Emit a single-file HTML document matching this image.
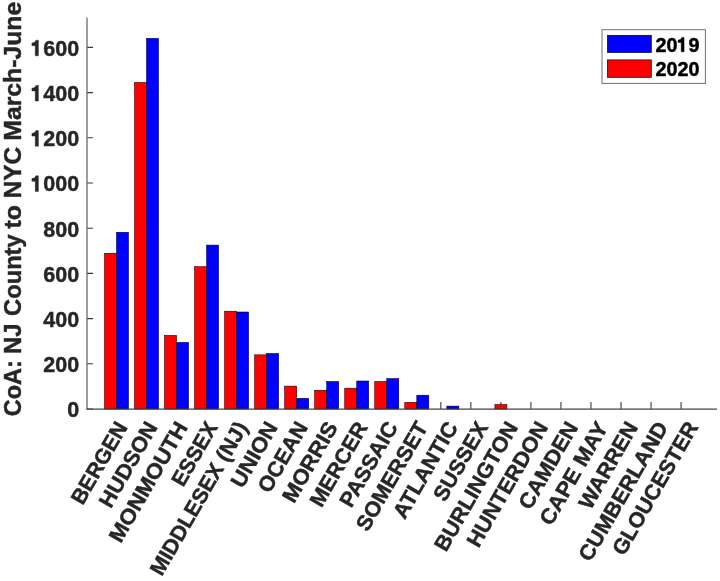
<!DOCTYPE html><html><head><meta charset="utf-8"><style>html,body{margin:0;padding:0;background:#fff;}svg{display:block;filter:blur(0.35px);}text{filter:grayscale(1);}text{font-family:"Liberation Sans", sans-serif;font-weight:bold;stroke:#262626;stroke-width:0.45px;paint-order:stroke;}</style></head><body>
<svg width="720" height="581" viewBox="0 0 720 581">
<rect x="0" y="0" width="720" height="581" fill="#fff"/>
<path d="M87 409.00H93M87 363.80H93M87 318.60H93M87 273.40H93M87 228.20H93M87 183.00H93M87 137.80H93M87 92.60H93M87 47.40H93M110.50 409.00V402.10M140.53 409.00V402.10M170.56 409.00V402.10M200.59 409.00V402.10M230.62 409.00V402.10M260.65 409.00V402.10M290.68 409.00V402.10M320.71 409.00V402.10M350.74 409.00V402.10M380.77 409.00V402.10M410.80 409.00V402.10M440.83 409.00V402.10M470.86 409.00V402.10M500.89 409.00V402.10M530.92 409.00V402.10M560.95 409.00V402.10M590.98 409.00V402.10M621.01 409.00V402.10M651.04 409.00V402.10M681.07 409.00V402.10" stroke="#262626" stroke-width="1.1" fill="none" opacity="0.9"/>
<rect x="104.50" y="253.29" width="12.00" height="155.71" fill="#ff0000" stroke="#000" stroke-width="0.55"/>
<rect x="116.50" y="232.27" width="12.00" height="176.73" fill="#0000ff" stroke="#000" stroke-width="0.55"/>
<rect x="134.53" y="82.50" width="12.00" height="326.50" fill="#ff0000" stroke="#000" stroke-width="0.55"/>
<rect x="146.53" y="38.36" width="12.00" height="370.64" fill="#0000ff" stroke="#000" stroke-width="0.55"/>
<rect x="164.56" y="335.39" width="12.00" height="73.61" fill="#ff0000" stroke="#000" stroke-width="0.55"/>
<rect x="176.56" y="342.40" width="12.00" height="66.60" fill="#0000ff" stroke="#000" stroke-width="0.55"/>
<rect x="194.59" y="266.71" width="12.00" height="142.29" fill="#ff0000" stroke="#000" stroke-width="0.55"/>
<rect x="206.59" y="245.10" width="12.00" height="163.90" fill="#0000ff" stroke="#000" stroke-width="0.55"/>
<rect x="224.62" y="311.21" width="12.00" height="97.79" fill="#ff0000" stroke="#000" stroke-width="0.55"/>
<rect x="236.62" y="312.00" width="12.00" height="97.00" fill="#0000ff" stroke="#000" stroke-width="0.55"/>
<rect x="254.65" y="354.85" width="12.00" height="54.15" fill="#ff0000" stroke="#000" stroke-width="0.55"/>
<rect x="266.65" y="353.49" width="12.00" height="55.51" fill="#0000ff" stroke="#000" stroke-width="0.55"/>
<rect x="284.68" y="386.11" width="12.00" height="22.89" fill="#ff0000" stroke="#000" stroke-width="0.55"/>
<rect x="296.68" y="398.31" width="12.00" height="10.69" fill="#0000ff" stroke="#000" stroke-width="0.55"/>
<rect x="314.71" y="390.24" width="12.00" height="18.76" fill="#ff0000" stroke="#000" stroke-width="0.55"/>
<rect x="326.71" y="381.50" width="12.00" height="27.50" fill="#0000ff" stroke="#000" stroke-width="0.55"/>
<rect x="344.74" y="388.21" width="12.00" height="20.79" fill="#ff0000" stroke="#000" stroke-width="0.55"/>
<rect x="356.74" y="381.00" width="12.00" height="28.00" fill="#0000ff" stroke="#000" stroke-width="0.55"/>
<rect x="374.77" y="381.50" width="12.00" height="27.50" fill="#ff0000" stroke="#000" stroke-width="0.55"/>
<rect x="386.77" y="378.60" width="12.00" height="30.40" fill="#0000ff" stroke="#000" stroke-width="0.55"/>
<rect x="404.80" y="402.40" width="12.00" height="6.60" fill="#ff0000" stroke="#000" stroke-width="0.55"/>
<rect x="416.80" y="395.21" width="12.00" height="13.79" fill="#0000ff" stroke="#000" stroke-width="0.55"/>
<rect x="446.83" y="406.11" width="12.00" height="2.89" fill="#0000ff" stroke="#000" stroke-width="0.55"/>
<rect x="494.89" y="404.53" width="12.00" height="4.47" fill="#ff0000" stroke="#000" stroke-width="0.55"/>
<path d="M87 17.4V409.2" stroke="#6a6a6a" stroke-width="1.3" fill="none"/>
<path d="M86.35 409.2H717" stroke="#444444" stroke-width="1.3" fill="none"/>
<text x="79.1" y="417.40" font-size="21.5" fill="#262626" text-anchor="end">0</text>
<text x="79.1" y="372.20" font-size="21.5" fill="#262626" text-anchor="end">200</text>
<text x="79.1" y="327.00" font-size="21.5" fill="#262626" text-anchor="end">400</text>
<text x="79.1" y="281.80" font-size="21.5" fill="#262626" text-anchor="end">600</text>
<text x="79.1" y="236.60" font-size="21.5" fill="#262626" text-anchor="end">800</text>
<text x="79.1" y="191.40" font-size="21.5" fill="#262626" text-anchor="end">000</text>
<path d="M0.185 0H0.33V0.725H0.215C0.19 0.64 0.12 0.60 0.03 0.595V0.47H0.185Z" transform="translate(31.28 191.40) scale(21.500 -21.500)" fill="#262626" stroke="#262626" stroke-width="0.0209"/>
<text x="79.1" y="146.20" font-size="21.5" fill="#262626" text-anchor="end">200</text>
<path d="M0.185 0H0.33V0.725H0.215C0.19 0.64 0.12 0.60 0.03 0.595V0.47H0.185Z" transform="translate(31.28 146.20) scale(21.500 -21.500)" fill="#262626" stroke="#262626" stroke-width="0.0209"/>
<text x="79.1" y="101.00" font-size="21.5" fill="#262626" text-anchor="end">400</text>
<path d="M0.185 0H0.33V0.725H0.215C0.19 0.64 0.12 0.60 0.03 0.595V0.47H0.185Z" transform="translate(31.28 101.00) scale(21.500 -21.500)" fill="#262626" stroke="#262626" stroke-width="0.0209"/>
<text x="79.1" y="55.80" font-size="21.5" fill="#262626" text-anchor="end">600</text>
<path d="M0.185 0H0.33V0.725H0.215C0.19 0.64 0.12 0.60 0.03 0.595V0.47H0.185Z" transform="translate(31.28 55.80) scale(21.500 -21.500)" fill="#262626" stroke="#262626" stroke-width="0.0209"/>
<text transform="translate(128.20 427.10) rotate(-60)" font-size="21.5" fill="#262626" text-anchor="end" textLength="91.08" lengthAdjust="spacingAndGlyphs">BERGEN</text>
<text transform="translate(158.23 427.10) rotate(-60)" font-size="21.5" fill="#262626" text-anchor="end" textLength="94.77" lengthAdjust="spacingAndGlyphs">HUDSON</text>
<text transform="translate(188.26 427.10) rotate(-60)" font-size="21.5" fill="#262626" text-anchor="end" textLength="134.88" lengthAdjust="spacingAndGlyphs">MONMOUTH</text>
<text transform="translate(218.29 427.10) rotate(-60)" font-size="21.5" fill="#262626" text-anchor="end" textLength="70.10" lengthAdjust="spacingAndGlyphs">ESSEX</text>
<text transform="translate(248.32 427.10) rotate(-60)" font-size="21.5" fill="#262626" text-anchor="end" textLength="173.21" lengthAdjust="spacingAndGlyphs">MIDDLESEX (NJ)</text>
<text transform="translate(278.35 427.10) rotate(-60)" font-size="21.5" fill="#262626" text-anchor="end" textLength="71.68" lengthAdjust="spacingAndGlyphs">UNION</text>
<text transform="translate(308.38 427.10) rotate(-60)" font-size="21.5" fill="#262626" text-anchor="end" textLength="77.54" lengthAdjust="spacingAndGlyphs">OCEAN</text>
<text transform="translate(338.41 427.10) rotate(-60)" font-size="21.5" fill="#262626" text-anchor="end" textLength="89.00" lengthAdjust="spacingAndGlyphs">MORRIS</text>
<text transform="translate(368.44 427.10) rotate(-60)" font-size="21.5" fill="#262626" text-anchor="end" textLength="94.12" lengthAdjust="spacingAndGlyphs">MERCER</text>
<text transform="translate(398.47 427.10) rotate(-60)" font-size="21.5" fill="#262626" text-anchor="end" textLength="94.41" lengthAdjust="spacingAndGlyphs">PASSAIC</text>
<text transform="translate(428.50 427.10) rotate(-60)" font-size="21.5" fill="#262626" text-anchor="end" textLength="121.60" lengthAdjust="spacingAndGlyphs">SOMERSET</text>
<text transform="translate(458.53 427.10) rotate(-60)" font-size="21.5" fill="#262626" text-anchor="end" textLength="107.44" lengthAdjust="spacingAndGlyphs">ATLANTIC</text>
<text transform="translate(488.56 427.10) rotate(-60)" font-size="21.5" fill="#262626" text-anchor="end" textLength="87.23" lengthAdjust="spacingAndGlyphs">SUSSEX</text>
<text transform="translate(518.59 427.10) rotate(-60)" font-size="21.5" fill="#262626" text-anchor="end" textLength="145.13" lengthAdjust="spacingAndGlyphs">BURLINGTON</text>
<text transform="translate(548.62 427.10) rotate(-60)" font-size="21.5" fill="#262626" text-anchor="end" textLength="140.46" lengthAdjust="spacingAndGlyphs">HUNTERDON</text>
<text transform="translate(578.65 427.10) rotate(-60)" font-size="21.5" fill="#262626" text-anchor="end" textLength="96.76" lengthAdjust="spacingAndGlyphs">CAMDEN</text>
<text transform="translate(608.68 427.10) rotate(-60)" font-size="21.5" fill="#262626" text-anchor="end" textLength="115.11" lengthAdjust="spacingAndGlyphs">CAPE MAY</text>
<text transform="translate(638.71 427.10) rotate(-60)" font-size="21.5" fill="#262626" text-anchor="end" textLength="96.65" lengthAdjust="spacingAndGlyphs">WARREN</text>
<text transform="translate(668.74 427.10) rotate(-60)" font-size="21.5" fill="#262626" text-anchor="end" textLength="156.77" lengthAdjust="spacingAndGlyphs">CUMBERLAND</text>
<text transform="translate(698.77 427.10) rotate(-60)" font-size="21.5" fill="#262626" text-anchor="end" textLength="149.66" lengthAdjust="spacingAndGlyphs">GLOUCESTER</text>
<text transform="translate(21 416.17) rotate(-90)" font-size="24.2" fill="#262626" textLength="55.99" lengthAdjust="spacingAndGlyphs">CoA:</text>
<text transform="translate(21 353.88) rotate(-90)" font-size="24.2" fill="#262626" textLength="30.49" lengthAdjust="spacingAndGlyphs">NJ</text>
<text transform="translate(21 315.88) rotate(-90)" font-size="24.2" fill="#262626" textLength="81.52" lengthAdjust="spacingAndGlyphs">County</text>
<text transform="translate(21 228.61) rotate(-90)" font-size="24.2" fill="#262626" textLength="23.37" lengthAdjust="spacingAndGlyphs">to</text>
<text transform="translate(21 198.52) rotate(-90)" font-size="24.2" fill="#262626" textLength="51.72" lengthAdjust="spacingAndGlyphs">NYC</text>
<text transform="translate(21 140.63) rotate(-90)" font-size="24.2" fill="#262626" textLength="138.77" lengthAdjust="spacingAndGlyphs">March-June</text>
<rect x="602" y="29.7" width="103.4" height="53.7" fill="#fff" stroke="#6e6e6e" stroke-width="1" opacity="1"/>
<rect x="607.5" y="35.3" width="43.8" height="17.1" fill="#0000ff" stroke="#000" stroke-width="0.7"/>
<rect x="607.5" y="59.9" width="43.8" height="17.4" fill="#ff0000" stroke="#000" stroke-width="0.7"/>
<text x="655.5" y="51.8" font-size="19.8" fill="#000" style="stroke:#000">20</text>
<path d="M0.185 0H0.33V0.725H0.215C0.19 0.64 0.12 0.60 0.03 0.595V0.47H0.185Z" transform="translate(677.52 51.80) scale(19.800 -19.800)" fill="#000" stroke="#000" stroke-width="0.0227"/>
<text x="688.53" y="51.8" font-size="19.8" fill="#000" style="stroke:#000">9</text>
<text x="655.5" y="75.9" font-size="19.8" fill="#000" style="stroke:#000">2020</text>
</svg></body></html>
